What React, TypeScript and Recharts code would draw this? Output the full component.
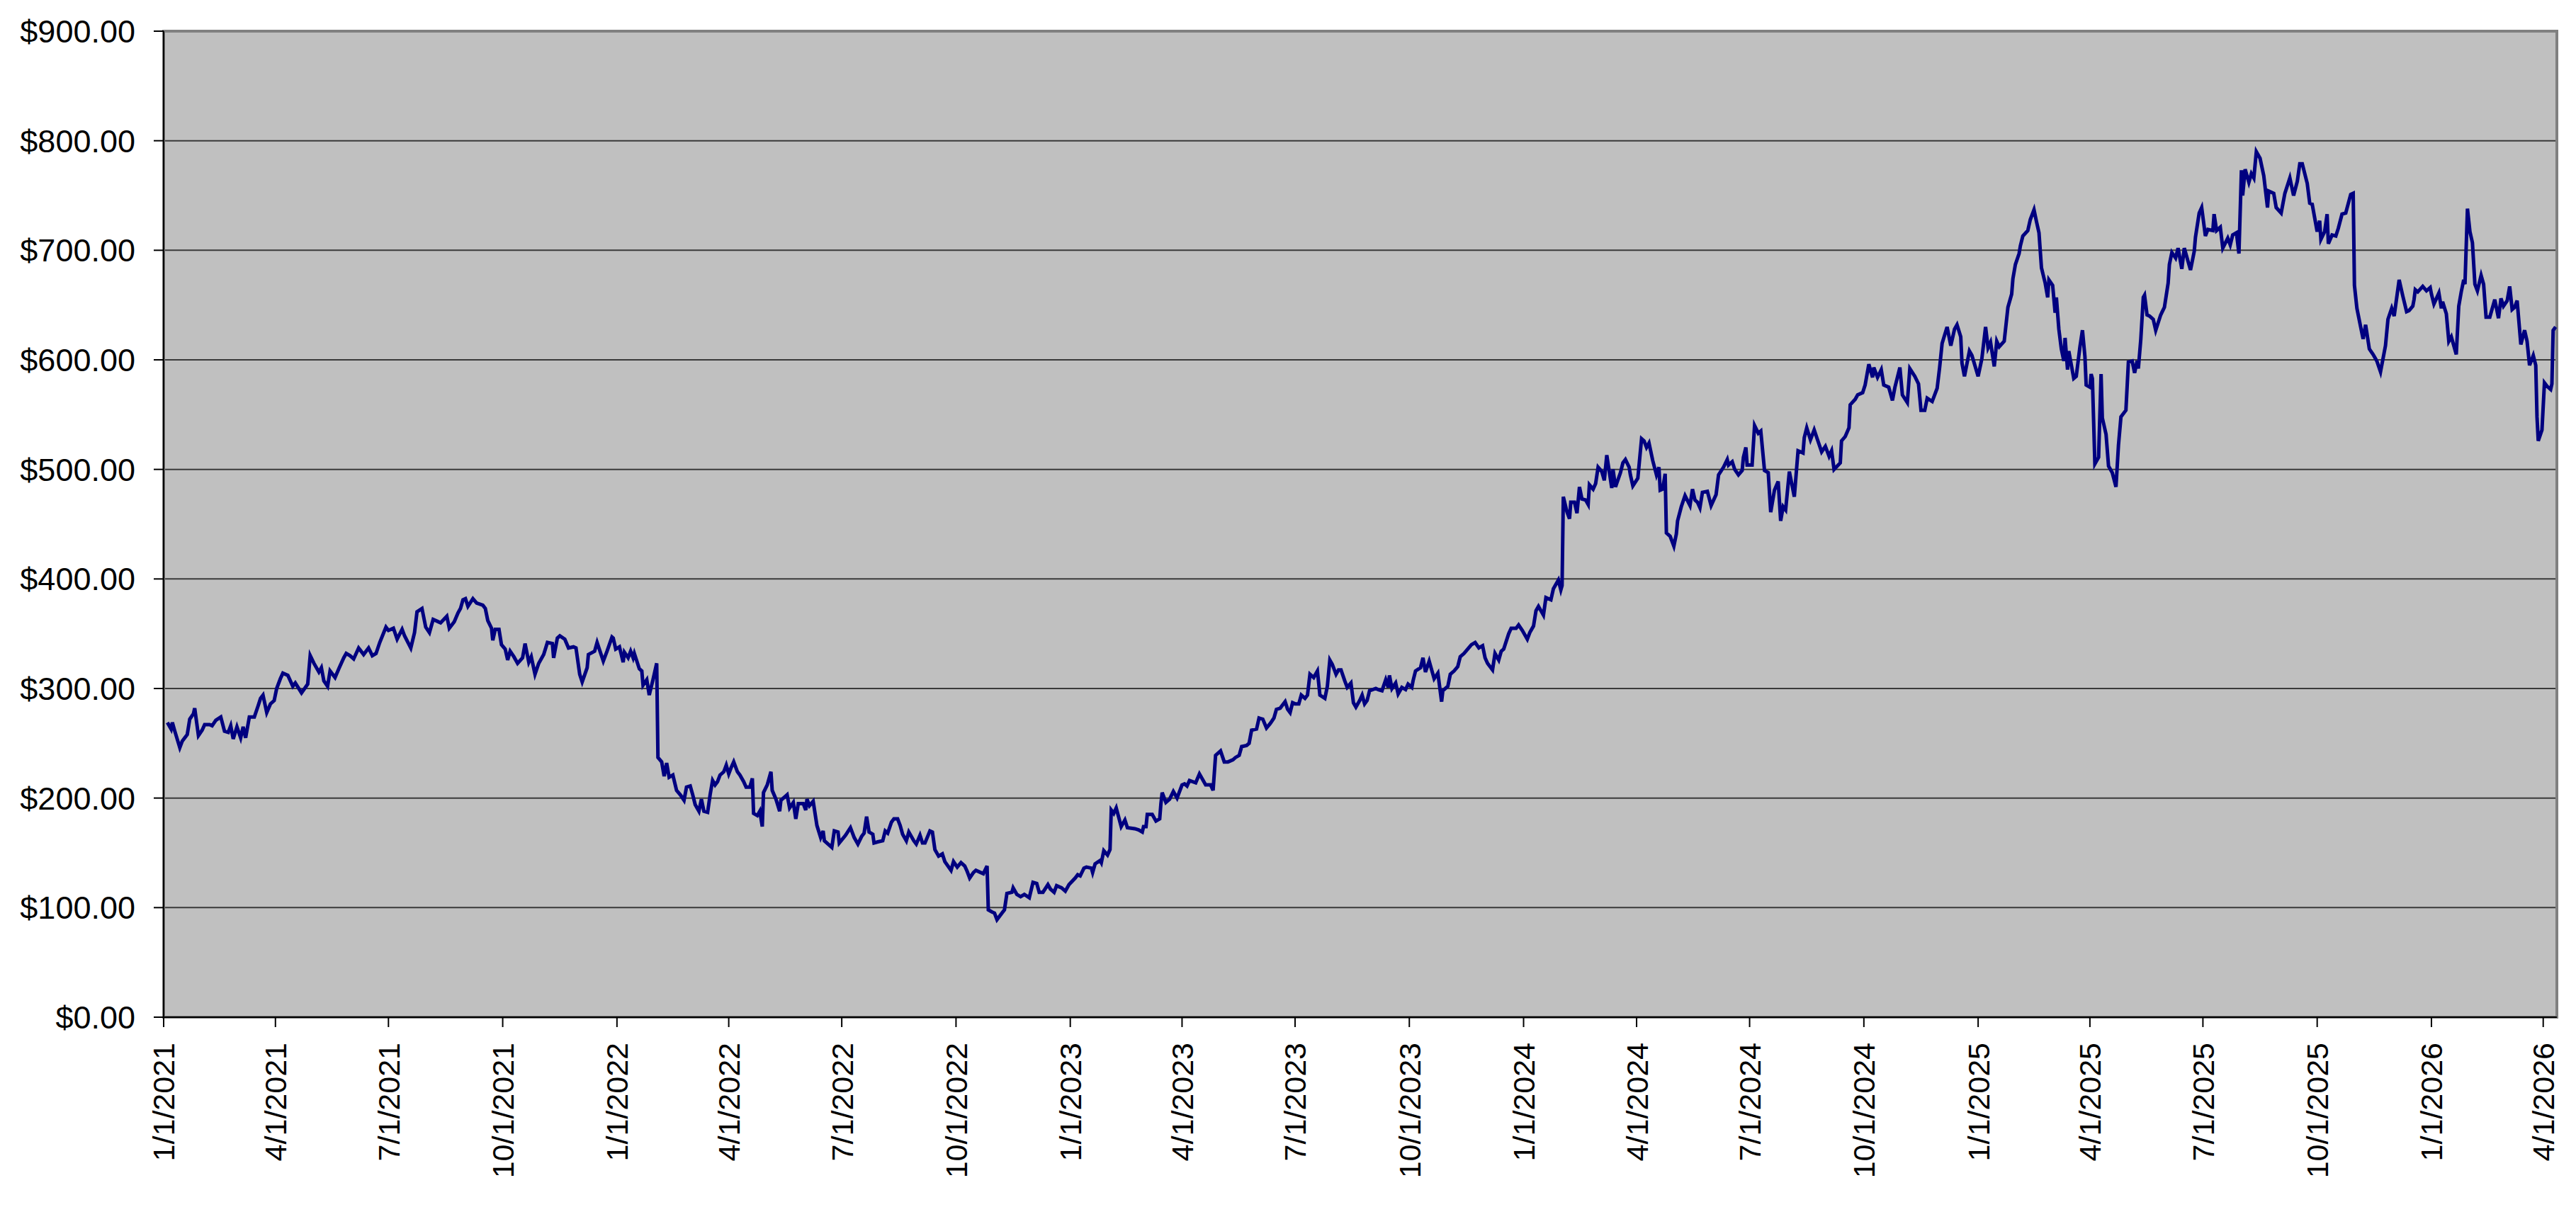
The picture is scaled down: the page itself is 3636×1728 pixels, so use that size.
import {
  CartesianGrid,
  Line,
  LineChart,
  ReferenceArea,
  XAxis,
  YAxis,
} from 'recharts'

// day offsets are counted from 1/1/2021, values are closing prices in $
const prices2021: [number, number][] = [
  [3, 269], [6, 263], [7, 269], [9, 261], [13, 246], [15, 252], [19, 258], [21, 272], [24, 277], [25, 282],
  [28, 257], [31, 262], [33, 267], [37, 267], [39, 266], [42, 271], [46, 274], [49, 261], [52, 260], [54, 266],
  [56, 254], [59, 265], [62, 255], [64, 265], [66, 255], [69, 274], [73, 274], [76, 284], [78, 291], [80, 294],
  [83, 278], [86, 286], [89, 289], [91, 300], [94, 309], [96, 314], [100, 312], [104, 302], [106, 305], [111, 296],
  [116, 304], [118, 330], [121, 323], [125, 315], [127, 319], [129, 307], [132, 302], [134, 316], [138, 310], [141, 318],
  [145, 328], [147, 332], [150, 330], [153, 327], [157, 337], [161, 331], [165, 337], [168, 330], [171, 332], [174, 342],
  [179, 356], [181, 353], [185, 355], [188, 345], [192, 354], [194, 348], [199, 337], [202, 351], [204, 370], [208, 373],
  [211, 356], [214, 351], [217, 363], [221, 361], [223, 360], [228, 366], [230, 355], [234, 361], [237, 369], [239, 373],
  [241, 381], [243, 382], [245, 375], [249, 382], [252, 378], [257, 376], [259, 373], [261, 362], [264, 355], [265, 344],
  [267, 354], [270, 354], [272, 340], [275, 336], [277, 326], [279, 334], [282, 329], [285, 323], [289, 328], [291, 341],
  [294, 324], [296, 329], [299, 313], [302, 323], [306, 331], [309, 342], [313, 341], [314, 328], [317, 346], [319, 348],
  [323, 345], [326, 337], [330, 338], [332, 337], [335, 313], [337, 306], [341, 319], [342, 331], [347, 334], [349, 342],
  [354, 325], [357, 334], [361, 347], [362, 346], [364, 336],
]

const prices2022: [number, number][] = [
  [367, 338], [370, 324], [371, 333], [374, 328], [376, 334], [378, 328], [379, 332], [383, 318], [385, 316], [386, 303],
  [389, 308], [391, 294], [394, 308], [397, 323], [398, 237], [401, 233], [403, 220], [405, 232], [407, 219], [410, 221],
  [413, 207], [416, 203], [419, 198], [421, 210], [424, 211], [426, 203], [428, 194], [431, 188], [433, 199], [435, 188],
  [438, 187], [440, 203], [442, 216], [444, 212], [446, 215], [448, 221], [451, 224], [453, 230], [455, 222], [457, 228],
  [459, 233], [462, 224], [464, 221], [467, 215], [469, 210], [472, 210], [474, 218], [475, 186], [478, 184], [480, 188],
  [482, 174], [483, 205], [486, 212], [489, 224], [490, 207], [493, 199], [496, 188], [497, 198], [501, 202], [502, 203],
  [504, 191], [507, 196], [509, 181], [511, 195], [515, 195], [517, 189], [518, 199], [520, 193], [523, 197], [526, 175],
  [529, 164], [531, 170], [532, 161], [538, 155], [540, 170], [543, 169], [544, 159], [549, 166], [553, 173], [556, 164],
  [559, 158], [562, 165], [564, 168], [566, 183], [568, 169], [571, 167], [572, 159], [575, 160], [579, 161], [581, 170],
  [583, 168], [586, 178], [588, 181], [591, 181], [593, 175], [595, 167], [598, 161], [600, 169], [604, 161], [606, 158],
  [609, 166], [611, 159], [613, 159], [617, 170], [619, 169], [621, 153], [624, 147], [627, 149], [629, 142], [634, 134],
  [636, 142], [639, 137], [642, 141], [645, 138], [647, 133], [649, 127], [652, 132], [654, 134], [658, 132], [660, 131],
  [663, 138], [664, 98], [667, 96], [669, 95], [671, 89], [675, 95], [677, 98], [679, 113], [683, 114], [684, 118],
  [687, 112], [690, 110], [693, 112], [697, 109], [700, 123], [703, 122], [705, 114], [708, 114], [712, 121], [714, 117],
  [717, 114], [719, 120], [723, 118], [726, 115], [729, 121],
]

const prices2023: [number, number][] = [
  [734, 127], [736, 130], [738, 129], [741, 136], [743, 137], [747, 136], [748, 132], [750, 140], [754, 143], [755, 141],
  [757, 152], [760, 148], [762, 153], [763, 189], [765, 186], [767, 191], [771, 174], [774, 180], [776, 173], [782, 172],
  [785, 171], [788, 169], [789, 174], [791, 174], [792, 185], [796, 185], [799, 179], [802, 181], [803, 195], [804, 205],
  [807, 196], [810, 199], [813, 206], [816, 200], [820, 212], [822, 213], [824, 211], [826, 216], [831, 214], [834, 222],
  [839, 212], [843, 212], [845, 207], [847, 239], [851, 243], [854, 233], [857, 233], [861, 235], [863, 237], [866, 239],
  [868, 247], [872, 248], [874, 250], [876, 262], [880, 263], [882, 273], [885, 272], [888, 264], [891, 268], [894, 273],
  [896, 281], [899, 282], [903, 288], [905, 281], [907, 278], [909, 287], [911, 286], [914, 286], [916, 294], [919, 291],
  [921, 294], [923, 313], [926, 310], [929, 316], [931, 294], [935, 291], [937, 302], [939, 326], [941, 322], [944, 313],
  [946, 317], [948, 317], [951, 307], [953, 301], [956, 305], [958, 287], [960, 283], [963, 289], [965, 294], [967, 286],
  [969, 289], [971, 298], [976, 300], [978, 299], [981, 298], [984, 308], [986, 301], [987, 312], [989, 300], [992, 305],
  [994, 295], [997, 301], [1000, 299], [1002, 304], [1005, 301], [1006, 307], [1008, 316], [1012, 319], [1014, 328], [1016, 315],
  [1019, 325], [1023, 309], [1026, 314], [1029, 288], [1030, 298], [1034, 302], [1036, 313], [1039, 316], [1042, 320], [1044, 329],
  [1047, 332], [1050, 336], [1053, 340], [1056, 342], [1059, 337], [1062, 339], [1064, 328], [1066, 323], [1070, 317], [1072, 332],
  [1075, 326], [1077, 334], [1079, 336], [1083, 350], [1085, 355], [1089, 355], [1091, 358], [1094, 353],
]

const prices2024: [number, number][] = [
  [1098, 345], [1100, 351], [1103, 357], [1105, 371], [1107, 375], [1111, 367], [1113, 383], [1117, 381], [1119, 391], [1123, 399],
  [1125, 390], [1126, 394], [1127, 475], [1130, 461], [1132, 455], [1133, 470], [1136, 470], [1138, 460], [1140, 484], [1142, 473],
  [1145, 472], [1147, 468], [1148, 486], [1151, 482], [1153, 487], [1155, 502], [1158, 498], [1160, 490], [1162, 513], [1166, 483],
  [1167, 500], [1169, 484], [1173, 497], [1175, 506], [1177, 509], [1180, 502], [1181, 495], [1183, 485], [1187, 492], [1190, 528],
  [1192, 526], [1194, 520], [1196, 524], [1199, 508], [1202, 495], [1204, 502], [1205, 481], [1207, 482], [1209, 496], [1210, 442],
  [1213, 439], [1216, 430], [1218, 441], [1219, 453], [1222, 466], [1225, 476], [1229, 467], [1231, 482], [1233, 472], [1235, 470],
  [1237, 465], [1239, 479], [1243, 480], [1246, 467], [1250, 477], [1252, 495], [1256, 502], [1259, 509], [1260, 504], [1263, 507],
  [1265, 500], [1268, 495], [1271, 499], [1272, 511], [1274, 520], [1275, 504], [1279, 504], [1281, 540], [1284, 533], [1286, 535],
  [1289, 499], [1292, 497], [1294, 461], [1297, 481], [1300, 489], [1302, 453], [1304, 466], [1306, 463], [1309, 498], [1313, 475],
  [1316, 517], [1320, 515], [1321, 529], [1323, 538], [1326, 527], [1329, 536], [1332, 526], [1335, 516], [1338, 521], [1341, 512],
  [1343, 517], [1345, 500], [1350, 506], [1351, 526], [1354, 530], [1357, 538], [1358, 559], [1362, 564], [1364, 568], [1368, 570],
  [1370, 577], [1373, 596], [1376, 584], [1377, 593], [1380, 584], [1383, 591], [1385, 577], [1389, 575], [1392, 563], [1394, 575],
  [1398, 593], [1400, 568], [1404, 561], [1406, 592], [1410, 585], [1413, 578], [1415, 554], [1418, 554], [1420, 565], [1424, 562],
  [1428, 574], [1430, 593], [1432, 615], [1436, 630], [1439, 613], [1442, 628], [1444, 632], [1447, 621], [1448, 597], [1450, 585],
  [1454, 608], [1456, 604],
]

const prices2025: [number, number][] = [
  [1461, 585], [1464, 601], [1467, 630], [1469, 611], [1471, 616], [1474, 594], [1476, 617], [1478, 612], [1482, 617], [1485, 648],
  [1488, 660], [1489, 674], [1491, 687], [1494, 697], [1495, 704], [1497, 713], [1501, 718], [1503, 728], [1506, 737], [1508, 726],
  [1510, 716], [1512, 684], [1515, 670], [1517, 657], [1518, 673], [1521, 668], [1523, 643], [1524, 657], [1526, 628], [1528, 610],
  [1530, 599], [1531, 620], [1533, 591], [1534, 608], [1538, 583], [1540, 585], [1543, 612], [1545, 627], [1547, 603], [1548, 577],
  [1551, 575], [1552, 587], [1553, 583], [1555, 505], [1558, 511], [1560, 587], [1561, 547], [1564, 532], [1566, 503], [1569, 497],
  [1572, 484], [1574, 522], [1576, 548], [1580, 554], [1582, 598], [1585, 599], [1587, 588], [1589, 599], [1590, 592], [1592, 619],
  [1594, 657], [1595, 659], [1597, 641], [1599, 640], [1602, 637], [1604, 627], [1608, 641], [1611, 648], [1614, 670], [1615, 687],
  [1617, 698], [1620, 693], [1622, 702], [1625, 683], [1627, 702], [1632, 682], [1635, 699], [1636, 712], [1639, 734], [1641, 739],
  [1644, 713], [1646, 719], [1650, 718], [1651, 733], [1653, 718], [1656, 721], [1658, 702], [1662, 711], [1664, 705], [1666, 714],
  [1669, 716], [1671, 697], [1673, 773], [1674, 750], [1676, 774], [1679, 762], [1681, 770], [1683, 766], [1685, 790], [1688, 784],
  [1691, 768], [1694, 739], [1695, 754], [1699, 752], [1701, 739], [1705, 734], [1708, 752], [1712, 766], [1715, 750], [1718, 763],
  [1720, 779], [1722, 779], [1726, 761], [1728, 743], [1730, 742], [1734, 717], [1736, 727], [1737, 710], [1740, 717], [1742, 733],
  [1743, 706], [1746, 714], [1749, 713], [1751, 720], [1754, 733], [1757, 734], [1761, 751], [1763, 752], [1764, 668], [1766, 647],
  [1769, 630], [1771, 619], [1773, 632], [1776, 610], [1779, 605], [1782, 599], [1785, 589], [1789, 613], [1791, 637], [1794, 647],
  [1796, 640], [1800, 673], [1803, 658], [1806, 644], [1808, 645], [1811, 649], [1812, 655], [1813, 664], [1815, 662], [1819, 667],
  [1822, 663], [1825, 666],
]

const prices2026: [number, number][] = [
  [1826, 660], [1828, 651], [1832, 661], [1834, 647], [1835, 653], [1838, 642], [1840, 617], [1842, 621], [1846, 605], [1848, 649],
  [1850, 662], [1852, 673], [1853, 669], [1855, 738], [1857, 717], [1859, 707], [1861, 669], [1863, 663], [1866, 677], [1868, 669],
  [1870, 639], [1873, 639], [1877, 655], [1880, 638], [1882, 656], [1884, 649], [1887, 654], [1889, 667], [1891, 646], [1893, 648],
  [1895, 654], [1898, 614], [1901, 627], [1903, 617], [1905, 595], [1908, 604], [1910, 595], [1911, 548], [1912, 526], [1915, 536],
  [1917, 579], [1919, 576], [1922, 573], [1923, 578], [1924, 627], [1926, 630],
]

const dateTicks = [
  '1/1/2021', '4/1/2021', '7/1/2021', '10/1/2021',
  '1/1/2022', '4/1/2022', '7/1/2022', '10/1/2022',
  '1/1/2023', '4/1/2023', '7/1/2023', '10/1/2023',
  '1/1/2024', '4/1/2024', '7/1/2024', '10/1/2024',
  '1/1/2025', '4/1/2025', '7/1/2025', '10/1/2025',
  '1/1/2026', '4/1/2026',
]

const priceTicks = [0, 100, 200, 300, 400, 500, 600, 700, 800, 900]

const DAY = 86400000
const START = Date.UTC(2021, 0, 1)
const LAST_DAY = 1927

const FONT = '"Liberation Sans", Arial, sans-serif'

const toTime = (label: string) => {
  const [m, d, y] = label.split('/').map(Number)
  return Date.UTC(y, m - 1, d)
}

const fmtDate = (t: number) => {
  const d = new Date(t)
  return `${d.getUTCMonth() + 1}/${d.getUTCDate()}/${d.getUTCFullYear()}`
}

const data = [...prices2021, ...prices2022, ...prices2023, ...prices2024, ...prices2025, ...prices2026].map(
  ([day, price]) => ({ t: START + day * DAY, price }),
)

function DateTick(props: any) {
  const { x, y, payload } = props
  return (
    <text
      x={x}
      y={y}
      transform={`rotate(-90, ${x}, ${y})`}
      textAnchor="end"
      dy="0.36em"
      fill="#000"
      fontSize={43}
      fontFamily={FONT}
    >
      {fmtDate(payload.value)}
    </text>
  )
}

export default function App() {
  const domainEnd = START + LAST_DAY * DAY
  return (
    <div style={{ position: 'absolute', left: 0, top: 0, width: 3636, height: 1728, background: '#fff' }}>
      <LineChart width={3636} height={1728} data={data} margin={{ top: 44, right: 27, bottom: 0, left: 0 }}>
        <CartesianGrid vertical={false} fill="#C0C0C0" stroke="#3a3a3a" strokeWidth={2} />
        <ReferenceArea
          x1={START}
          x2={domainEnd}
          y1={0}
          y2={900}
          fill="none"
          stroke="#808080"
          strokeWidth={4}
          ifOverflow="visible"
        />
        <XAxis
          dataKey="t"
          type="number"
          domain={[START, domainEnd]}
          ticks={dateTicks.map(toTime)}
          interval={0}
          height={292}
          tickSize={14}
          tickMargin={22}
          tick={<DateTick />}
          axisLine={{ stroke: '#000', strokeWidth: 2 }}
          tickLine={{ stroke: '#000', strokeWidth: 2 }}
        />
        <YAxis
          domain={[0, 900]}
          ticks={priceTicks}
          interval={0}
          width={231}
          tickSize={14}
          tickMargin={26}
          tickFormatter={(v: number) => `$${v.toFixed(2)}`}
          tick={{ fill: '#000', fontSize: 45, fontFamily: FONT }}
          axisLine={{ stroke: '#000', strokeWidth: 2 }}
          tickLine={{ stroke: '#000', strokeWidth: 2 }}
        />
        <Line
          type="linear"
          dataKey="price"
          stroke="#000080"
          strokeWidth={5}
          dot={false}
          isAnimationActive={false}
        />
      </LineChart>
    </div>
  )
}
